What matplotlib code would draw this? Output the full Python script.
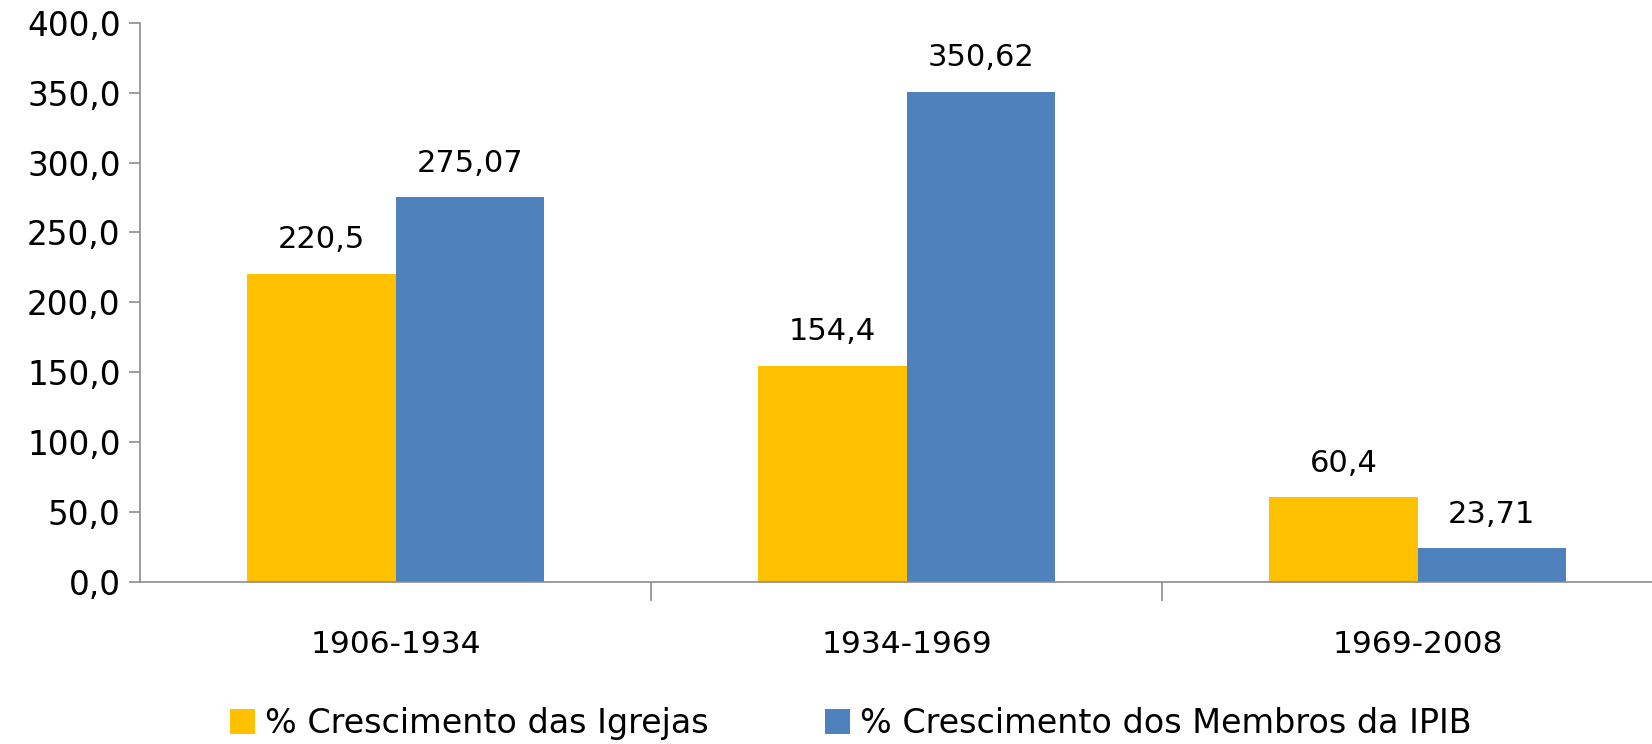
import matplotlib.pyplot as plt
import numpy as np

periods = ['1906-1934', '1934-1969', '1969-2008']
igrejas = [220.5, 154.4, 60.4]
membros = [275.07, 350.62, 23.71]
igrejas_labels = ['220,5', '154,4', '60,4']
membros_labels = ['275,07', '350,62', '23,71']
series_names = ['% Crescimento das Igrejas', '% Crescimento dos Membros da IPIB']

plt.rcParams['font.family'] = ['DejaVu Sans']

fig = plt.figure(figsize=(16.52, 7.44), dpi=100)
ax = fig.add_axes([140 / 1652, 0.2183, 1533 / 1652, 0.7508])

x = np.arange(len(periods))
w = 0.29
b1 = ax.bar(x - w / 2, igrejas, w, color='#FFC000', label=series_names[0])
b2 = ax.bar(x + w / 2, membros, w, color='#4F81BD', label=series_names[1])

for rect, txt in zip(b1, igrejas_labels):
    ax.text(rect.get_x() + rect.get_width() / 2, rect.get_height() + 14, txt,
            ha='center', va='bottom', fontsize=22)
for rect, txt in zip(b2, membros_labels):
    ax.text(rect.get_x() + rect.get_width() / 2, rect.get_height() + 14, txt,
            ha='center', va='bottom', fontsize=22)

ax.set_xlim(-0.5, 2.5)
ax.set_ylim(0, 400)
ax.set_yticks(np.arange(0, 401, 50))
ax.set_yticklabels([f'{v:.1f}'.replace('.', ',') for v in np.arange(0, 401, 50)])
ax.set_xticks(x)
ax.set_xticklabels(periods)
ax.set_xticks([0.5, 1.5], minor=True)

for s in ['top', 'right']:
    ax.spines[s].set_visible(False)
for s in ['left', 'bottom']:
    ax.spines[s].set_color('#8c8c8c')
    ax.spines[s].set_linewidth(1.2)

ax.tick_params(axis='y', length=8, width=1.2, color='#8c8c8c', pad=6, labelsize=23.5)
ax.tick_params(axis='x', which='major', length=0, pad=35, labelsize=22.5)
ax.tick_params(axis='x', which='minor', length=14, width=1.2, color='#8c8c8c')

fig.legend(loc='lower center', bbox_to_anchor=(0.515, -0.035), ncol=2, frameon=False,
           fontsize=24, handlelength=0.75, handleheight=0.75, handletextpad=0.3,
           columnspacing=3.5)

fig.savefig('out.png', dpi=100)
